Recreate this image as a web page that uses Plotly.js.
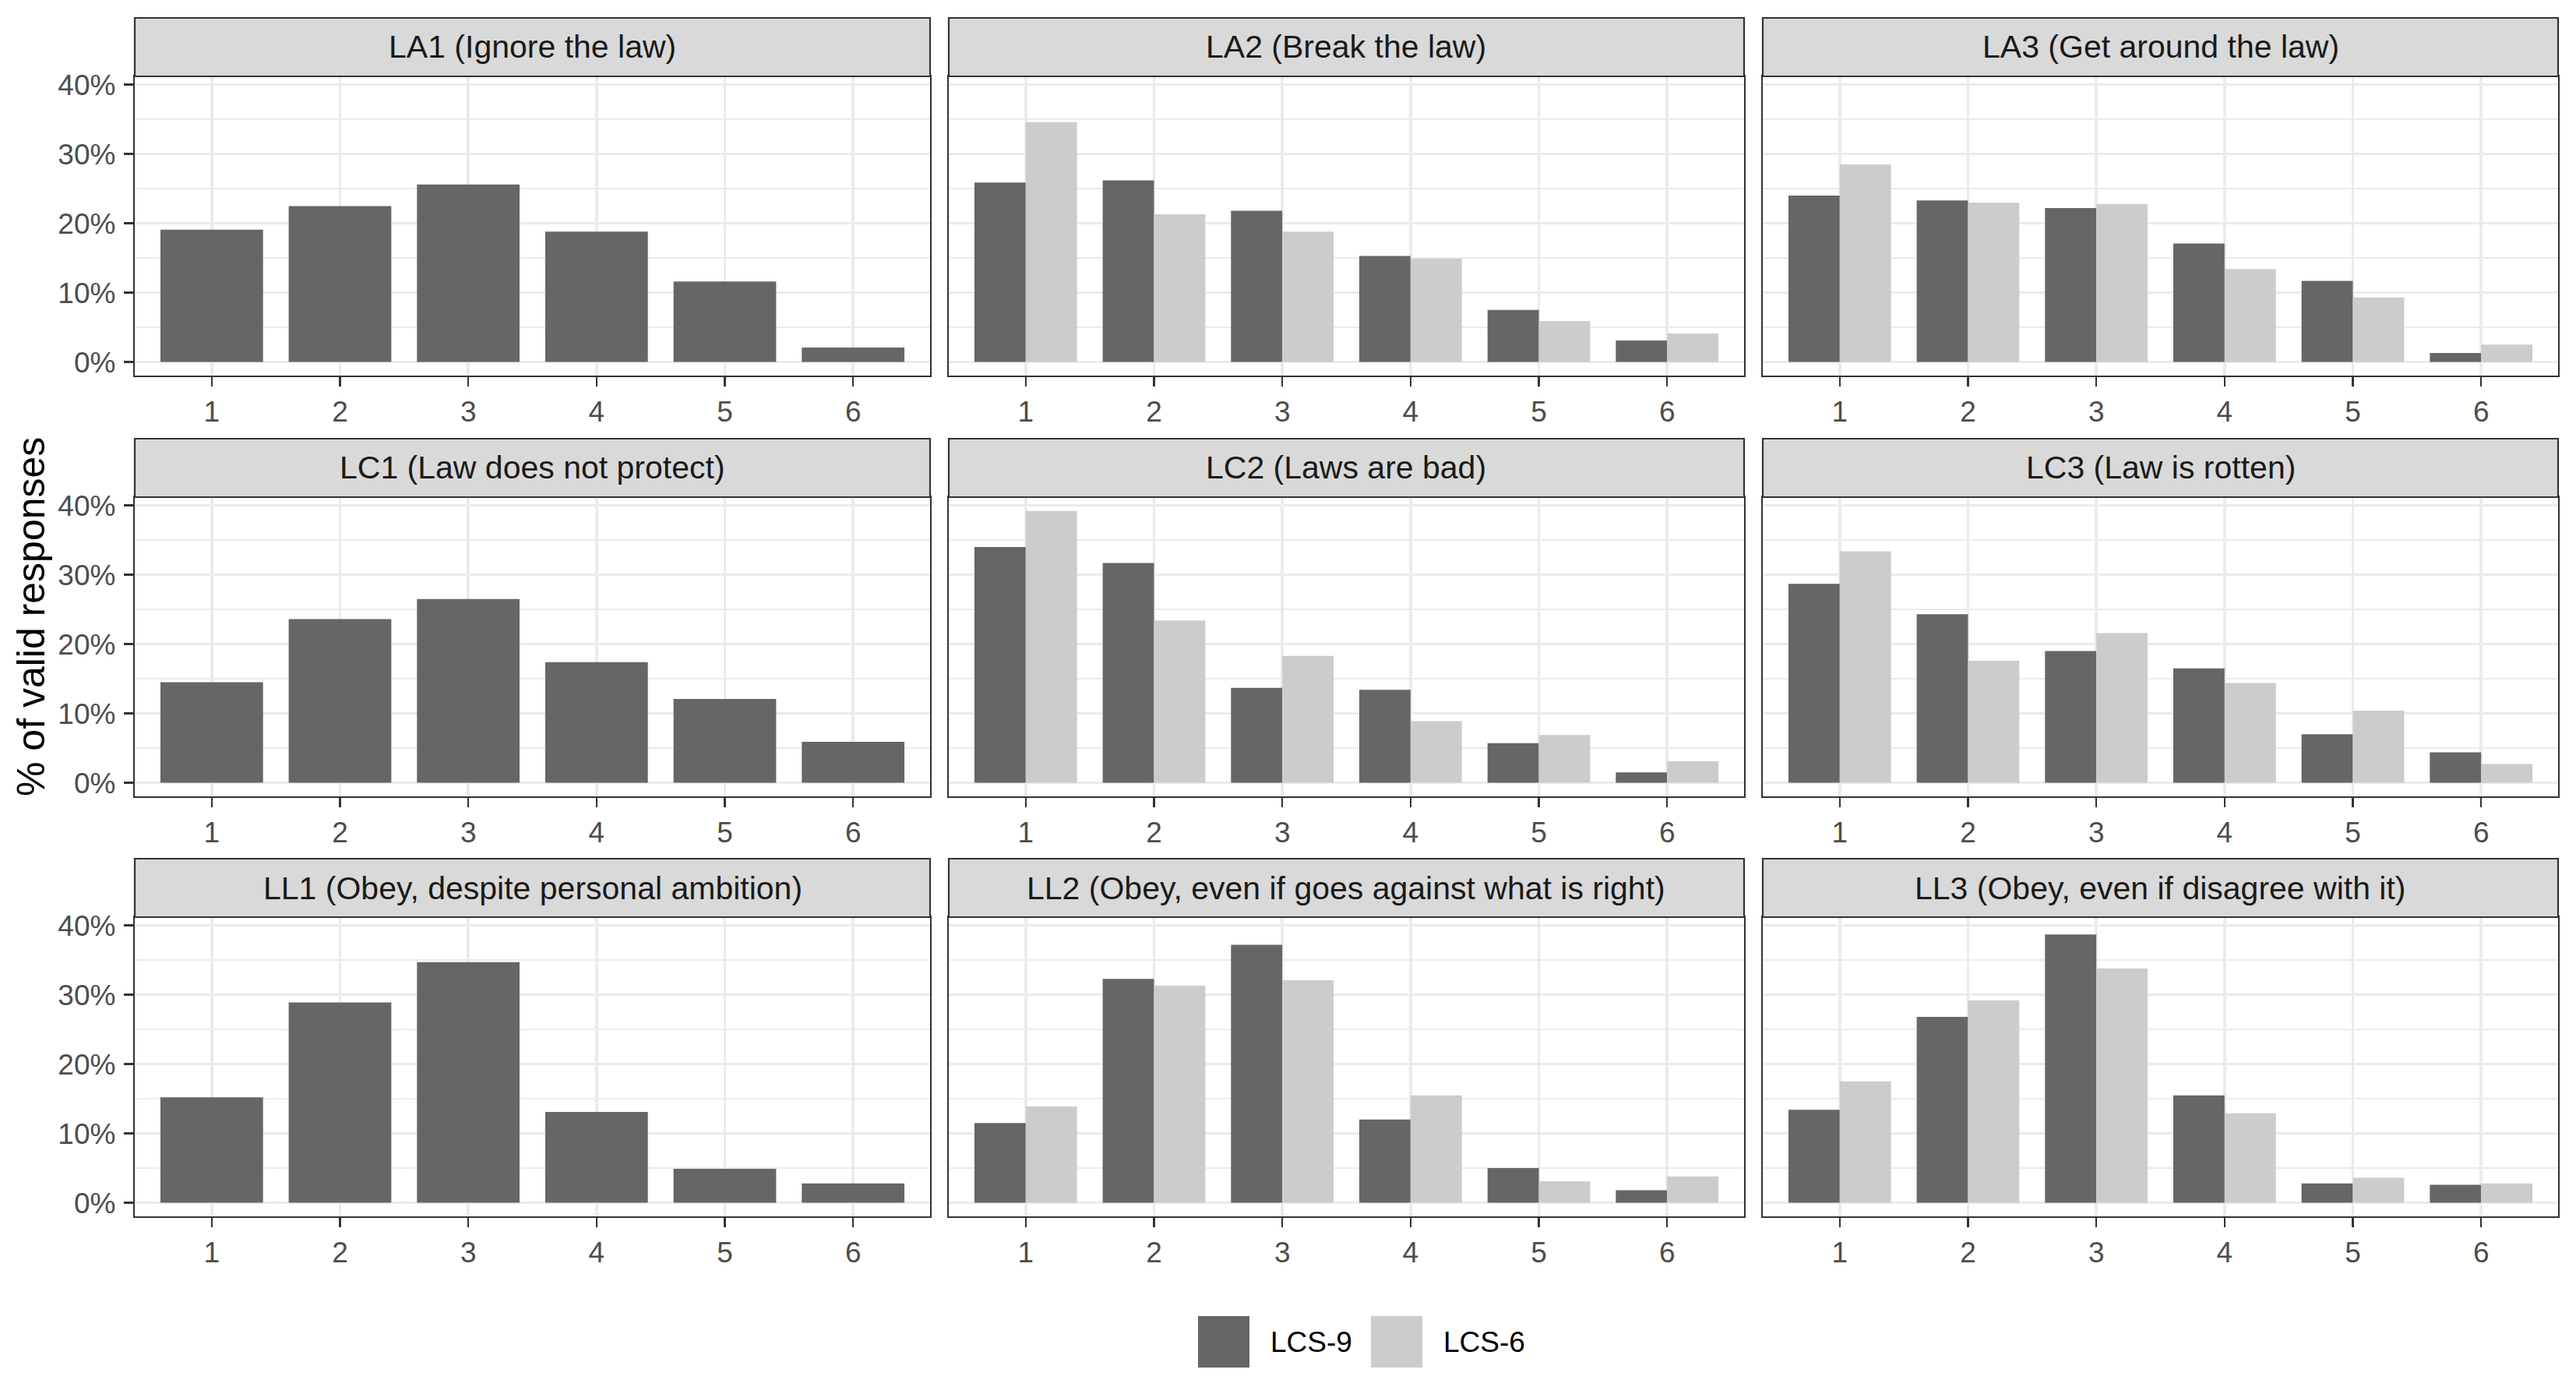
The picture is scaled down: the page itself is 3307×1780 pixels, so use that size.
<!DOCTYPE html>
<html>
<head>
<meta charset="utf-8">
<script src="https://cdn.plot.ly/plotly-3.0.1.min.js"></script>
<style>
  html, body { margin: 0; padding: 0; background: #ffffff; }
  #chart { width: 3307px; height: 1780px; }
</style>
</head>
<body>
<div id="chart"></div>
<script>
// Response distributions per item, % of valid responses.
const responses = [1, 2, 3, 4, 5, 6];
const responseLabels = ["1", "2", "3", "4", "5", "6"];
const percentTicks = [0, 10, 20, 30, 40];
const percentLabels = ["0%", "10%", "20%", "30%", "40%"];
const seriesNames = ["LCS-9", "LCS-6"];

const panelTitles = [
  "LA1 (Ignore the law)",
  "LA2 (Break the law)",
  "LA3 (Get around the law)",
  "LC1 (Law does not protect)",
  "LC2 (Laws are bad)",
  "LC3 (Law is rotten)",
  "LL1 (Obey, despite personal ambition)",
  "LL2 (Obey, even if goes against what is right)",
  "LL3 (Obey, even if disagree with it)"
];

const la1Lcs9 = [19.1, 22.5, 25.6, 18.8, 11.6, 2.1];
const la2Lcs9 = [25.9, 26.2, 21.8, 15.3, 7.5, 3.1];
const la2Lcs6 = [34.6, 21.3, 18.8, 14.9, 5.9, 4.1];
const la3Lcs9 = [24.0, 23.3, 22.2, 17.1, 11.7, 1.3];
const la3Lcs6 = [28.5, 23.0, 22.8, 13.4, 9.3, 2.5];
const lc1Lcs9 = [14.5, 23.6, 26.5, 17.4, 12.1, 5.9];
const lc2Lcs9 = [34.0, 31.7, 13.7, 13.4, 5.7, 1.5];
const lc2Lcs6 = [39.2, 23.4, 18.3, 8.9, 6.9, 3.1];
const lc3Lcs9 = [28.7, 24.3, 19.0, 16.5, 7.0, 4.4];
const lc3Lcs6 = [33.4, 17.6, 21.6, 14.4, 10.4, 2.7];
const ll1Lcs9 = [15.2, 28.9, 34.7, 13.1, 4.9, 2.8];
const ll2Lcs9 = [11.5, 32.3, 37.2, 12.0, 5.0, 1.8];
const ll2Lcs6 = [13.9, 31.3, 32.1, 15.5, 3.1, 3.8];
const ll3Lcs9 = [13.4, 26.8, 38.7, 15.5, 2.8, 2.6];
const ll3Lcs6 = [17.5, 29.2, 33.8, 12.9, 3.6, 2.8];

// LCS-6 was not asked for the first item of each block, so those are null.
const lcs9ByPanel = [la1Lcs9, la2Lcs9, la3Lcs9, lc1Lcs9, lc2Lcs9, lc3Lcs9, ll1Lcs9, ll2Lcs9, ll3Lcs9];
const lcs6ByPanel = [null, la2Lcs6, la3Lcs6, null, lc2Lcs6, lc3Lcs6, null, ll2Lcs6, ll3Lcs6];

(function () {
  "use strict";

  const W = 3307;
  const H = 1780;
  const FONT = "Liberation Sans, Arial, Helvetica, sans-serif";
  const DARK = "#666666";
  const LIGHT = "#CCCCCC";
  const GRID = "#EBEBEB";
  const INK = "#333333";

  // Facet grid in pixels (ggplot theme_bw look-alike).
  const COLS = [[173, 1194], [1218, 2239], [2263, 3284]];
  const ROWS = [[98, 482], [638, 1022], [1177, 1561]]; // plot area top, bottom
  const STRIP_H = 75;
  const Y_RANGE = [-1.96, 41.2];

  const px = (x) => x / W;
  const py = (y) => 1 - y / H;

  const traces = [];
  const shapes = [];
  const annotations = [];
  const layout = {
    width: W,
    height: H,
    margin: { l: 0, r: 0, t: 0, b: 0 },
    paper_bgcolor: "#ffffff",
    plot_bgcolor: "#ffffff",
    font: { family: FONT, color: "#000000" },
    barmode: "group",
    bargap: 0.2,
    bargroupgap: 0,
    showlegend: false
  };

  panelTitles.forEach(function (title, i) {
    const row = Math.floor(i / 3);
    const col = i % 3;
    const n = i === 0 ? "" : String(i + 1);
    const xa = "x" + n;
    const ya = "y" + n;
    const [left, right] = COLS[col];
    const [top, bottom] = ROWS[row];

    traces.push({
      type: "bar",
      name: seriesNames[0],
      x: responses,
      y: lcs9ByPanel[i],
      xaxis: xa,
      yaxis: ya,
      marker: { color: DARK, line: { width: 0 } },
      hoverinfo: "skip"
    });
    if (lcs6ByPanel[i]) {
      traces.push({
        type: "bar",
        name: seriesNames[1],
        x: responses,
        y: lcs6ByPanel[i],
        xaxis: xa,
        yaxis: ya,
        marker: { color: LIGHT, line: { width: 0 } },
        hoverinfo: "skip"
      });
    }

    layout["xaxis" + n] = {
      domain: [px(left), px(right)],
      anchor: ya,
      range: [0.4, 6.6],
      tickvals: responses,
      ticktext: responseLabels,
      ticks: "outside",
      ticklen: 12,
      tickwidth: 2.6,
      tickcolor: INK,
      tickfont: { family: FONT, size: 37, color: "#4D4D4D" },
      showgrid: true,
      gridcolor: GRID,
      gridwidth: 3.4,
      zeroline: false,
      showline: true,
      mirror: true,
      linecolor: INK,
      linewidth: 2.2,
      fixedrange: true
    };

    layout["yaxis" + n] = {
      domain: [py(bottom), py(top)],
      anchor: xa,
      range: Y_RANGE,
      tickvals: percentTicks,
      ticktext: percentLabels,
      showticklabels: col === 0,
      ticks: col === 0 ? "outside" : "",
      ticklen: 12,
      tickwidth: 2.6,
      tickcolor: INK,
      ticklabelstandoff: 3,
      tickfont: { family: FONT, size: 37, color: "#4D4D4D" },
      showgrid: true,
      gridcolor: GRID,
      gridwidth: 3.4,
      minor: { tick0: 5, dtick: 10, showgrid: true, gridcolor: GRID, gridwidth: 1.7, ticks: "" },
      zeroline: false,
      showline: true,
      mirror: true,
      linecolor: INK,
      linewidth: 2.2,
      fixedrange: true
    };

    // Facet strip above the panel.
    shapes.push({
      type: "rect",
      xref: "paper",
      yref: "paper",
      x0: px(left),
      x1: px(right),
      y0: py(top),
      y1: py(top - STRIP_H),
      fillcolor: "#D9D9D9",
      line: { color: INK, width: 2.2 },
      layer: "above"
    });
    annotations.push({
      text: title,
      xref: "paper",
      yref: "paper",
      x: px((left + right) / 2),
      y: py(top - STRIP_H / 2),
      xanchor: "center",
      yanchor: "middle",
      showarrow: false,
      font: { family: FONT, size: 41, color: "#1A1A1A" }
    });
  });

  // Shared y-axis title.
  annotations.push({
    text: "% of valid responses",
    xref: "paper",
    yref: "paper",
    x: px(40),
    y: py((ROWS[0][0] - STRIP_H + ROWS[2][1]) / 2),
    xanchor: "center",
    yanchor: "middle",
    textangle: -90,
    showarrow: false,
    font: { family: FONT, size: 50, color: "#000000" }
  });

  // Bottom legend drawn by hand: Plotly's own keys cannot be this large.
  const legendKeys = [
    { name: seriesNames[0], color: DARK, keyLeft: 1538 },
    { name: seriesNames[1], color: LIGHT, keyLeft: 1760 }
  ];
  const KEY = 66;
  const KEY_MID = 1722;
  legendKeys.forEach(function (item) {
    shapes.push({
      type: "rect",
      xref: "paper",
      yref: "paper",
      x0: px(item.keyLeft),
      x1: px(item.keyLeft + KEY),
      y0: py(KEY_MID + KEY / 2),
      y1: py(KEY_MID - KEY / 2),
      fillcolor: item.color,
      line: { width: 0 }
    });
    annotations.push({
      text: item.name,
      xref: "paper",
      yref: "paper",
      x: px(item.keyLeft + KEY + 25),
      y: py(KEY_MID),
      xanchor: "left",
      yanchor: "middle",
      showarrow: false,
      font: { family: FONT, size: 37, color: "#000000" }
    });
  });

  layout.shapes = shapes;
  layout.annotations = annotations;

  Plotly.newPlot("chart", traces, layout, { displayModeBar: false, staticPlot: true });
})();
</script>
</body>
</html>
